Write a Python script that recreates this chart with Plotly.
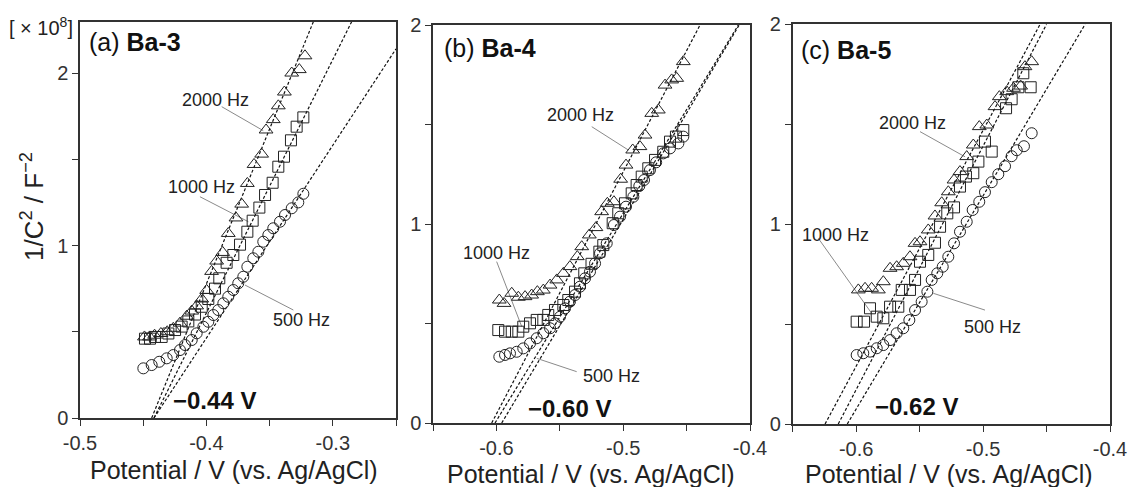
import plotly.graph_objects as go

# ---------------- data ----------------
# Panel (a) Ba-3
a_tri_x = [-0.4490,-0.4450,-0.4410,-0.4360,-0.4310,-0.4262,-0.4209,-0.4156,-0.4116,-0.4077,-0.4037,-0.3998,-0.3959,-0.3919,-0.3871,-0.3827,-0.3766,-0.3721,-0.3676,-0.3623,-0.3563,-0.3528,-0.3471,-0.3431,-0.3383,-0.3325,-0.3265,-0.3220]
a_tri_y = [0.47,0.47,0.48,0.49,0.50,0.52,0.55,0.59,0.62,0.65,0.69,0.74,0.85,0.91,0.96,1.07,1.16,1.24,1.36,1.47,1.53,1.67,1.73,1.81,1.89,2.00,2.02,2.10]
a_sq_x = [-0.4486,-0.4446,-0.4407,-0.4354,-0.4301,-0.4248,-0.4196,-0.4143,-0.4090,-0.4037,-0.3985,-0.3932,-0.3898,-0.3840,-0.3787,-0.3734,-0.3676,-0.3634,-0.3581,-0.3536,-0.3476,-0.3431,-0.3386,-0.3331,-0.3286,-0.3233]
a_sq_y = [0.46,0.46,0.47,0.47,0.49,0.51,0.53,0.56,0.60,0.645,0.69,0.75,0.81,0.90,0.945,1.005,1.08,1.144,1.22,1.293,1.364,1.457,1.515,1.61,1.689,1.743]
a_ci_x = [-0.4499,-0.4433,-0.4373,-0.4314,-0.4262,-0.4209,-0.4169,-0.4116,-0.4077,-0.4024,-0.3985,-0.3945,-0.3906,-0.3866,-0.3827,-0.3787,-0.3748,-0.3708,-0.3676,-0.3629,-0.3589,-0.3550,-0.3510,-0.3471,-0.3418,-0.3378,-0.3325,-0.3273,-0.3233]
a_ci_y = [0.288,0.307,0.326,0.346,0.365,0.394,0.423,0.452,0.491,0.529,0.558,0.597,0.626,0.665,0.703,0.742,0.781,0.819,0.877,0.926,0.964,1.022,1.061,1.100,1.138,1.177,1.216,1.250,1.300]
a_fit_tri = ([-0.4433, -0.3154], [0.0, 2.297])
a_fit_sq = ([-0.4415, -0.2851], [0.0, 2.297])
a_fit_ci = ([-0.4415, -0.2500], [0.0, 2.14])

# Panel (b) Ba-4
b_tri_x = [-0.5977,-0.5940,-0.5879,-0.5827,-0.5774,-0.5722,-0.5677,-0.5630,-0.5577,-0.5524,-0.5472,-0.5420,-0.5362,-0.5327,-0.5267,-0.5215,-0.5170,-0.5125,-0.5073,-0.5020,-0.4978,-0.4925,-0.4868,-0.4828,-0.4775,-0.4723,-0.4670,-0.4618,-0.4578,-0.4526]
b_tri_y = [0.618,0.601,0.652,0.632,0.635,0.643,0.660,0.668,0.693,0.719,0.752,0.786,0.836,0.886,0.945,0.982,1.062,1.104,1.112,1.225,1.296,1.372,1.389,1.447,1.556,1.573,1.698,1.724,1.732,1.816]
b_sq_x = [-0.5985,-0.5932,-0.5879,-0.5827,-0.5788,-0.5735,-0.5682,-0.5630,-0.5591,-0.5538,-0.5472,-0.5433,-0.5380,-0.5341,-0.5307,-0.5250,-0.5188,-0.5157,-0.5083,-0.5039,-0.4986,-0.4933,-0.4894,-0.4854,-0.4802,-0.4749,-0.4684,-0.4631,-0.4584,-0.4526]
b_sq_y = [0.467,0.459,0.459,0.459,0.484,0.501,0.518,0.518,0.543,0.568,0.593,0.618,0.660,0.702,0.752,0.800,0.861,0.894,1.004,1.054,1.104,1.154,1.196,1.238,1.280,1.322,1.363,1.414,1.439,1.472]
b_ci_x = [-0.5977,-0.5932,-0.5893,-0.5840,-0.5788,-0.5735,-0.5682,-0.5630,-0.5577,-0.5538,-0.5498,-0.5459,-0.5420,-0.5380,-0.5341,-0.5301,-0.5262,-0.5222,-0.5183,-0.5130,-0.5073,-0.5025,-0.4978,-0.4920,-0.4873,-0.4836,-0.4789,-0.4740,-0.4684,-0.4631,-0.4565,-0.4526]
b_ci_y = [0.333,0.342,0.350,0.358,0.375,0.400,0.426,0.451,0.476,0.501,0.534,0.576,0.610,0.643,0.685,0.727,0.760,0.802,0.853,0.903,0.995,1.037,1.087,1.137,1.191,1.221,1.271,1.310,1.355,1.380,1.405,1.439]
b_fit_tri = ([-0.6037, -0.4394], [0.0, 2.0])
b_fit_sq = ([-0.6011, -0.4092], [0.0, 2.0])
b_fit_ci = ([-0.5958, -0.4085], [0.0, 2.0])

# Panel (c) Ba-5
c_tri_x = [-0.5983,-0.5930,-0.5878,-0.5825,-0.5786,-0.5733,-0.5681,-0.5629,-0.5576,-0.5536,-0.5497,-0.5432,-0.5379,-0.5326,-0.5274,-0.5229,-0.5182,-0.5129,-0.5077,-0.5030,-0.4971,-0.4906,-0.4872,-0.4814,-0.4760,-0.4704,-0.4670,-0.4617]
c_tri_y = [0.671,0.679,0.679,0.671,0.712,0.779,0.787,0.804,0.837,0.904,0.912,0.971,1.041,1.107,1.162,1.221,1.263,1.338,1.396,1.488,1.496,1.588,1.638,1.663,1.680,1.691,1.788,1.813]
c_sq_x = [-0.5996,-0.5938,-0.5891,-0.5838,-0.5786,-0.5733,-0.5668,-0.5641,-0.5576,-0.5536,-0.5497,-0.5432,-0.5379,-0.5339,-0.5282,-0.5229,-0.5182,-0.5135,-0.5077,-0.5037,-0.4985,-0.4932,-0.4819,-0.4775,-0.4722,-0.4683,-0.4625]
c_sq_y = [0.512,0.512,0.579,0.537,0.529,0.587,0.587,0.671,0.671,0.721,0.812,0.846,0.907,0.987,1.054,1.084,1.188,1.238,1.255,1.313,1.413,1.363,1.580,1.625,1.685,1.755,1.685]
c_ci_x = [-0.5996,-0.5944,-0.5891,-0.5838,-0.5786,-0.5733,-0.5681,-0.5629,-0.5581,-0.5536,-0.5484,-0.5439,-0.5405,-0.5361,-0.5318,-0.5274,-0.5229,-0.5182,-0.5129,-0.5082,-0.5030,-0.4985,-0.4932,-0.4880,-0.4827,-0.4775,-0.4735,-0.4678,-0.4617]
c_ci_y = [0.345,0.354,0.362,0.379,0.395,0.420,0.454,0.479,0.520,0.570,0.612,0.662,0.721,0.754,0.787,0.837,0.904,0.962,1.012,1.071,1.112,1.160,1.210,1.250,1.290,1.340,1.370,1.390,1.455]
c_fit_tri = ([-0.6245, -0.4551], [0.0, 2.0])
c_fit_sq = ([-0.6141, -0.4500], [0.0, 2.0])
c_fit_ci = ([-0.6070, -0.4196], [0.0, 2.0])

panel_titles = ["(a) <b>Ba-3</b>", "(b) <b>Ba-4</b>", "(c) <b>Ba-5</b>"]
intercept_labels = ["<b>\u22120.44 V</b>", "<b>\u22120.60 V</b>", "<b>\u22120.62 V</b>"]
freq_labels = ["2000 Hz", "1000 Hz", "500 Hz"]
# label positions (data coords) and leader lines (from, to) per panel
label_pos = [
    [(-0.3932, 1.843), (-0.4035, 1.339), (-0.3244, 0.568)],
    [(-0.5333, 1.548), (-0.6003, 0.854), (-0.5096, 0.236)],
    [(-0.5556, 1.505), (-0.6159, 0.946), (-0.4926, 0.487)],
]
leaders = [
    [((-0.3879, 1.805), (-0.3550, 1.666)), ((-0.4051, 1.283), (-0.3668, 1.138)), ((-0.3695, 0.771), (-0.3312, 0.626))],
    [((-0.5248, 1.489), (-0.4960, 1.372)), ((-0.5998, 0.811), (-0.5800, 0.484)), ((-0.5682, 0.325), (-0.5367, 0.258))],
    [((-0.5497, 1.463), (-0.5142, 1.337)), ((-0.6298, 0.929), (-0.5878, 0.554)), ((-0.5392, 0.654), (-0.4985, 0.570))],
]
intercept_pos = [(-0.3936, 0.104), (-0.5427, 0.074), (-0.5523, 0.087)]

x_ranges = [[-0.5, -0.25], [-0.65, -0.4], [-0.65, -0.4]]
y_ranges = [[0, 2.296], [0, 2.0], [0, 2.0]]
x_ticks = [[-0.5, -0.4, -0.3], [-0.6, -0.5, -0.4], [-0.6, -0.5, -0.4]]
x_ticktext = [["-0.5", "-0.4", "-0.3"], ["-0.6", "-0.5", "-0.4"], ["-0.6", "-0.5", "-0.4"]]
x_minor = [[-0.45, -0.35, -0.25], [-0.65, -0.55, -0.45], [-0.65, -0.55, -0.45]]
y_ticks = [0, 1, 2]
y_minor = [0.5, 1.5]

# ---------------- layout geometry ----------------
W, H = 1131, 487
px_boxes = [(80, 396, 22, 418), (433, 750, 25, 423), (792.7, 1110, 24.3, 424)]

FONT = "Arial, 'Liberation Sans', Helvetica, sans-serif"

fig = go.Figure()

panels = [
    (a_tri_x, a_tri_y, a_sq_x, a_sq_y, a_ci_x, a_ci_y, a_fit_tri, a_fit_sq, a_fit_ci),
    (b_tri_x, b_tri_y, b_sq_x, b_sq_y, b_ci_x, b_ci_y, b_fit_tri, b_fit_sq, b_fit_ci),
    (c_tri_x, c_tri_y, c_sq_x, c_sq_y, c_ci_x, c_ci_y, c_fit_tri, c_fit_sq, c_fit_ci),
]

annotations = []
for i, p in enumerate(panels):
    sfx = "" if i == 0 else str(i + 1)
    xa, ya = "x" + sfx, "y" + sfx
    tx, ty, sx, sy, cx, cy, ft, fs, fc = p
    for fx, fy in (ft, fs, fc):
        fig.add_trace(go.Scatter(x=fx, y=fy, mode="lines", xaxis=xa, yaxis=ya,
                                 line=dict(color="#111", width=1.2, dash="3px,2px"),
                                 showlegend=False, hoverinfo="skip"))
    for (x0, y0), (x1, y1) in leaders[i]:
        fig.add_trace(go.Scatter(x=[x0, x1], y=[y0, y1], mode="lines", xaxis=xa, yaxis=ya,
                                 line=dict(color="#8a8a8a", width=1),
                                 showlegend=False, hoverinfo="skip"))
    fig.add_trace(go.Scatter(x=cx, y=cy, mode="markers", xaxis=xa, yaxis=ya,
                             marker=dict(symbol="circle-open", size=11, color="#222", line=dict(width=1)),
                             showlegend=False, cliponaxis=False))
    fig.add_trace(go.Scatter(x=sx, y=sy, mode="markers", xaxis=xa, yaxis=ya,
                             marker=dict(symbol="square-open", size=11, color="#222", line=dict(width=1)),
                             showlegend=False, cliponaxis=False))
    fig.add_trace(go.Scatter(x=tx, y=ty, mode="markers", xaxis=xa, yaxis=ya,
                             marker=dict(symbol="triangle-up-open", size=12, color="#222", line=dict(width=1)),
                             showlegend=False, cliponaxis=False))

    l, r, t, b = px_boxes[i]
    xdom = [l / W, r / W]
    ydom = [1 - b / H, 1 - t / H]
    axis_common = dict(showline=True, linecolor="#333", linewidth=1.5, mirror=True,
                       showgrid=False, zeroline=False, ticks="outside", ticklen=6,
                       tickcolor="#333", tickwidth=1.3, automargin=False,
                       tickfont=dict(family=FONT, size=20, color="#333"))
    fig.update_layout(**{
        "xaxis" + sfx: dict(domain=xdom, range=x_ranges[i], anchor=ya,
                            tickmode="array", tickvals=x_ticks[i], ticktext=x_ticktext[i],
                            minor=dict(tickmode="array", tickvals=x_minor[i], ticks="outside",
                                       ticklen=6, tickcolor="#333", tickwidth=1.3),
                            **axis_common),
        "yaxis" + sfx: dict(domain=ydom, range=y_ranges[i], anchor=xa,
                            tickmode="array", tickvals=y_ticks, ticktext=[str(v) for v in y_ticks],
                            minor=dict(tickmode="array", tickvals=y_minor, ticks="outside",
                                       ticklen=6, tickcolor="#333", tickwidth=1.3),
                            **axis_common),
    })

    # panel title
    annotations.append(dict(xref=xa + " domain", yref=ya + " domain",
                            x=[0.022, 0.028, 0.020][i], y=[0.949, 0.942, 0.936][i],
                            text=panel_titles[i], showarrow=False, xanchor="left", yanchor="middle",
                            font=dict(family=FONT, size=25, color="#111")))
    # frequency labels
    for txt, (lx, ly) in zip(freq_labels, label_pos[i]):
        annotations.append(dict(xref=xa, yref=ya, x=lx, y=ly, text=txt, showarrow=False,
                                xanchor="center", yanchor="middle",
                                font=dict(family=FONT, size=18, color="#222")))
    # intercept label
    ix, iy = intercept_pos[i]
    annotations.append(dict(xref=xa, yref=ya, x=ix, y=iy, text=intercept_labels[i], showarrow=False,
                            xanchor="center", yanchor="middle",
                            font=dict(family=FONT, size=24, color="#111")))
    # x axis title
    annotations.append(dict(xref="paper", yref="paper",
                            x=[234, 591, 949][i] / W, y=1 - [470, 474, 474][i] / H,
                            text="Potential / V (vs. Ag/AgCl)", showarrow=False,
                            xanchor="center", yanchor="middle",
                            font=dict(family=FONT, size=25, color="#222")))

# y axis title and multiplier
annotations.append(dict(xref="paper", yref="paper", x=32 / W, y=1 - 207 / H,
                        text="1/C<sup>2</sup> / F<sup>\u22122</sup>", showarrow=False, textangle=-90,
                        xanchor="center", yanchor="middle",
                        font=dict(family=FONT, size=26, color="#222")))
annotations.append(dict(xref="paper", yref="paper", x=41 / W, y=1 - 27 / H,
                        text="[ \u00d7 10<sup>8</sup>]", showarrow=False,
                        xanchor="center", yanchor="middle",
                        font=dict(family=FONT, size=20, color="#222")))

fig.update_layout(width=W, height=H, autosize=False,
                  margin=dict(l=0, r=0, t=0, b=0, pad=0, autoexpand=False),
                  paper_bgcolor="white", plot_bgcolor="white",
                  annotations=annotations, showlegend=False)

fig.write_html("out.html")
